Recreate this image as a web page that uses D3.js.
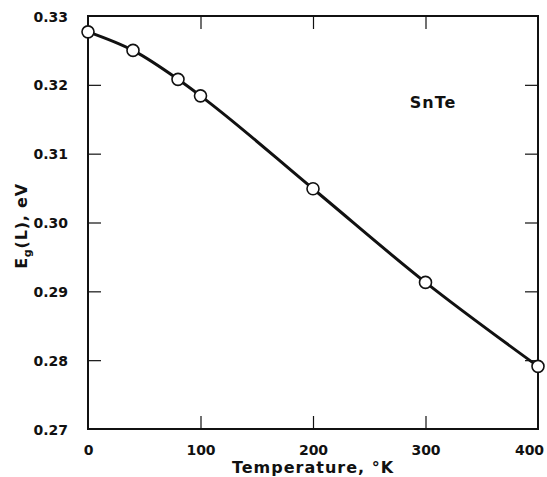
<!DOCTYPE html>
<html>
<head>
<meta charset="utf-8">
<script src="https://cdn.jsdelivr.net/npm/d3@7"></script>
<style>
  body { margin: 0; background: #fff; }
  text { font-family: "DejaVu Sans", sans-serif; font-weight: bold; fill: #111; }
</style>
</head>
<body>
<svg id="chart" width="547" height="477"></svg>
<script>
// Data
const temps = [0, 40, 80, 100, 200, 300, 400];
const gaps = [0.3277, 0.3250, 0.3208, 0.3184, 0.3049, 0.2913, 0.2791];
const xTicks = [0, 100, 200, 300, 400];
const yTicks = [0.27, 0.28, 0.29, 0.30, 0.31, 0.32, 0.33];

const margin = { top: 16, right: 9, bottom: 48, left: 88 };
const width = 547, height = 477;
const innerW = width - margin.left - margin.right,
      innerH = height - margin.top - margin.bottom;

const svg = d3.select('#chart');
const g = svg.append('g')
  .attr('transform', `translate(${margin.left},${margin.top})`);

const x = d3.scaleLinear().domain([0, 400]).range([0, innerW]);
const y = d3.scaleLinear().domain([0.27, 0.33]).range([innerH, 0]);

// Frame
g.append('rect')
  .attr('width', innerW)
  .attr('height', innerH)
  .attr('fill', 'none')
  .attr('stroke', '#111')
  .attr('stroke-width', 2);

// Axes: ticks point inward on all sides
const axBottom = g.append('g')
  .attr('transform', `translate(0,${innerH})`)
  .call(d3.axisBottom(x).tickValues(xTicks).tickSize(-13).tickPadding(16));
const axTop = g.append('g')
  .call(d3.axisTop(x).tickValues(xTicks).tickSize(-13).tickFormat(''));
const axLeft = g.append('g')
  .call(d3.axisLeft(y).tickValues(yTicks).tickSize(-13).tickPadding(20)
    .tickFormat(d3.format('.2f')));
const axRight = g.append('g')
  .attr('transform', `translate(${innerW},0)`)
  .call(d3.axisRight(y).tickValues(yTicks).tickSize(-13).tickFormat(''));

[axBottom, axTop, axLeft, axRight].forEach(a => {
  a.select('.domain').remove();
  a.selectAll('line').attr('stroke', '#111').attr('stroke-width', 1.2);
  a.selectAll('text').style('font-size', '14px').attr('fill', '#111');
});
// hide ticks sitting on the frame corners
axBottom.selectAll('.tick').filter(d => d === 0 || d === 400).select('line').remove();
axTop.selectAll('.tick').filter(d => d === 0 || d === 400).select('line').remove();
axLeft.selectAll('.tick').filter(d => d === 0.27 || d === 0.33).select('line').remove();
axRight.selectAll('.tick').filter(d => d === 0.27 || d === 0.33).select('line').remove();
axLeft.selectAll('text').attr('dy', '0.36em');
// last x label sits a bit left of its tick, as in the original
axBottom.selectAll('.tick').filter(d => d === 400).select('text').attr('dx', -9);

// Curve
const pts = temps.map((t, i) => ({ t, e: gaps[i] }));
const line = d3.line()
  .x(d => x(d.t))
  .y(d => y(d.e))
  .curve(d3.curveMonotoneX);

g.append('path')
  .datum(pts)
  .attr('d', line)
  .attr('fill', 'none')
  .attr('stroke', '#111')
  .attr('stroke-width', 3);

g.selectAll('circle')
  .data(pts)
  .enter()
  .append('circle')
    .attr('cx', d => x(d.t))
    .attr('cy', d => y(d.e))
    .attr('r', 6)
    .attr('fill', '#fff')
    .attr('stroke', '#111')
    .attr('stroke-width', 1.6);

// Labels
svg.append('text')
  .attr('x', margin.left + innerW / 2)
  .attr('y', 473)
  .attr('text-anchor', 'middle')
  .style('font-size', '16px')
  .style('letter-spacing', '1px')
  .text('Temperature, °K');

const yl = svg.append('text')
  .attr('transform', `translate(27,226) rotate(-90)`)
  .attr('text-anchor', 'middle')
  .style('font-size', '16px')
  .style('letter-spacing', '0.8px');
yl.append('tspan').text('E');
yl.append('tspan').attr('dy', 4).style('font-size', '11px').text('g');
yl.append('tspan').attr('dy', -4).text('(L), eV');

svg.append('text')
  .attr('x', 433)
  .attr('y', 108)
  .attr('text-anchor', 'middle')
  .style('font-size', '16px')
  .style('letter-spacing', '1px')
  .text('SnTe');
</script>
</body>
</html>
